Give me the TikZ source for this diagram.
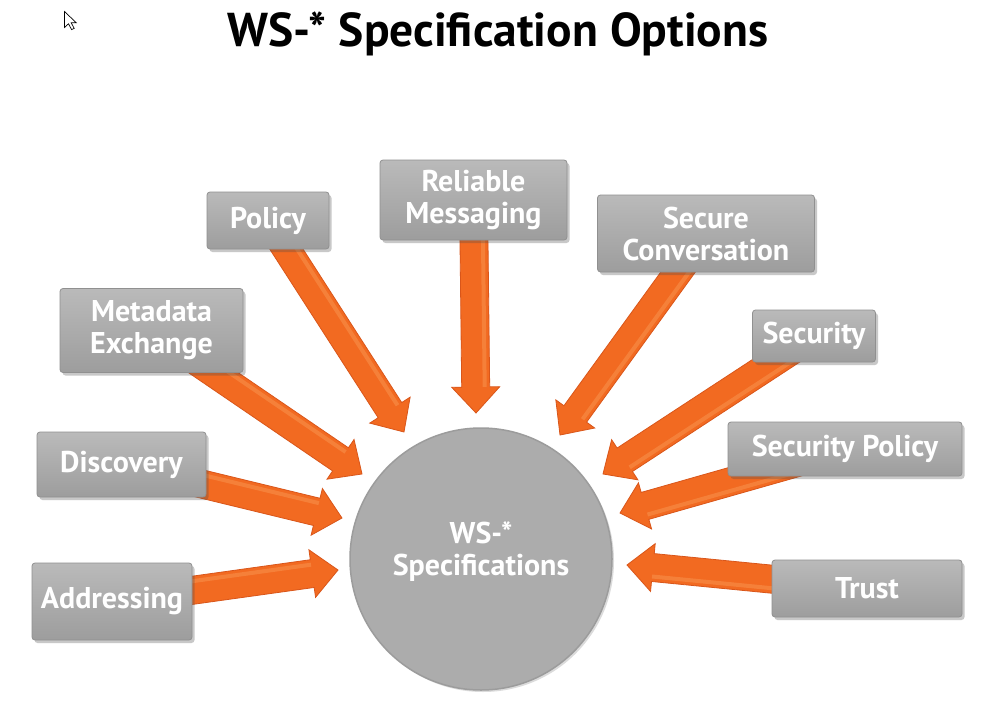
\documentclass[tikz,border=0pt]{standalone}
\usepackage{fontspec}
\setmainfont{PT Sans}
\usetikzlibrary{calc,shadows}
\pgfdeclarelayer{bg}
\pgfsetlayers{bg,main}

\definecolor{boxtop}{HTML}{BABABA}
\definecolor{boxbot}{HTML}{9D9D9D}
\definecolor{boxedge}{HTML}{909090}
\definecolor{hubfill}{HTML}{ACACAC}
\definecolor{hubedge}{HTML}{9C9C9C}
\definecolor{arrowfill}{HTML}{F26A21}
\definecolor{arrowedge}{HTML}{D9561A}
\definecolor{arrowlite}{HTML}{F8934E}

\tikzset{
  spec/.style={rectangle, rounded corners=3pt, top color=boxtop, bottom color=boxbot,
    draw=boxedge, line width=0.8pt, text=white, align=center, inner sep=0pt,
    font=\bfseries\fontsize{30}{32}\selectfont,
    drop shadow={shadow xshift=2.5pt, shadow yshift=-3pt, opacity=0.3, fill=black!70}},
  hub/.style={circle, minimum size=262pt, inner sep=0pt, fill=hubfill, draw=hubedge,
    line width=1.5pt, drop shadow={shadow xshift=2pt, shadow yshift=-2pt, opacity=0.2, fill=black!70}},
  hubtext/.style={text=white, align=center, font=\bfseries\fontsize{30}{32}\selectfont},
  arrowbody/.style={fill=arrowfill, draw=arrowedge, line width=0.8pt, line join=miter},
  arrowstripe/.style={draw=arrowlite, line width=4pt, opacity=0.55},
}

% Thick block arrow from the centre of node #1 to the tip coordinate #2
\newcommand\fatarrow[2]{%
  \coordinate (fa-h) at ($(#2)!26pt!(#1.center)$);
  \filldraw[arrowbody]
    ($(#1.center)!14pt!90:(#2)$) -- ($(fa-h)!14pt!90:(#2)$) -- ($(fa-h)!24pt!90:(#2)$)
    -- (#2) -- ($(fa-h)!24pt!-90:(#2)$) -- ($(fa-h)!14pt!-90:(#2)$)
    -- ($(#1.center)!14pt!-90:(#2)$) -- cycle;
  \draw[arrowstripe] ($(#1.center)!9pt!90:(#2)$) -- ($(fa-h)!9pt!90:(#2)$);
}

\begin{document}
\begin{tikzpicture}[x=1pt, y=-1pt]
  \useasboundingbox (0,0) rectangle (1001,706);
  \begin{pgfonlayer}{bg}
    \fill[white] (0,0) rectangle (1001,706);
  \end{pgfonlayer}

  % title
  \node[anchor=base, font=\bfseries\fontsize{47.5}{50}\selectfont] (title) at (498,47) {WS-* Specification Options};

  % mouse pointer
  \draw[fill=white, line width=0.7pt, line join=miter]
    (64.5,11.5) -- (64.5,27.5) -- (68.5,23.8) -- (71.6,29.6) -- (74.2,28.4) -- (71.2,22.8) -- (76.3,22.8) -- cycle;

  % central specification hub
  \node[hub] (hub) at (481,559) {};
  \node[hubtext] (hubtxt) at (481,552) {WS-*\\Specifications};

  % specification boxes
  \node[spec, minimum width=122pt, minimum height=57pt] (pol)   at (268,220.5) {Policy};
  \node[spec, minimum width=187pt, minimum height=80pt] (rel)   at (473.5,200) {Reliable\\Messaging};
  \node[spec, minimum width=217pt, minimum height=77pt] (sconv) at (706,233.5) {Secure\\Conversation};
  \node[spec, minimum width=183pt, minimum height=84pt] (meta)  at (151.5,330.5) {Metadata\\Exchange};
  \node[spec, minimum width=123pt, minimum height=52pt] (secu)  at (814,336) {Security};
  \node[spec, minimum width=169pt, minimum height=65pt] (disc)  at (121.5,464.5) {Discovery};
  \node[spec, minimum width=234pt, minimum height=54pt] (spol)  at (845,449) {Security Policy};
  \node[spec, minimum width=160pt, minimum height=77pt] (addr)  at (112,601.5) {Addressing};
  \node[spec, minimum width=190pt, minimum height=57pt] (trust) at (867,588.5) {Trust};

  % arrow tips around the hub
  \coordinate (tPol)   at (404,432);
  \coordinate (tRel)   at (476,413);
  \coordinate (tSconv) at (560,435);
  \coordinate (tMeta)  at (362,474);
  \coordinate (tSecu)  at (603,474);
  \coordinate (tDisc)  at (342,518);
  \coordinate (tSpol)  at (620,513);
  \coordinate (tAddr)  at (338,570);
  \coordinate (tTrust) at (627,565);

  \begin{pgfonlayer}{bg}
    \fatarrow{pol}{tPol}
    \fatarrow{rel}{tRel}
    \fatarrow{sconv}{tSconv}
    \fatarrow{meta}{tMeta}
    \fatarrow{secu}{tSecu}
    \fatarrow{disc}{tDisc}
    \fatarrow{spol}{tSpol}
    \fatarrow{addr}{tAddr}
    \fatarrow{trust}{tTrust}
  \end{pgfonlayer}
\end{tikzpicture}
\end{document}
